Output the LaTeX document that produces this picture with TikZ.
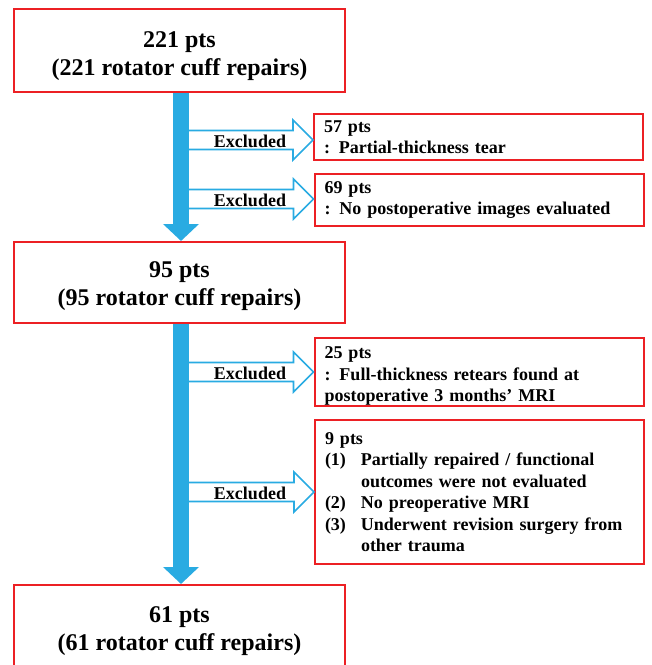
\documentclass[tikz,border=0pt]{standalone}
\usepackage{fontspec}
\setmainfont{Liberation Serif}
\usetikzlibrary{arrows.meta,calc}
\definecolor{boxred}{RGB}{236,32,36}
\definecolor{ablue}{RGB}{41,171,226}
\begin{document}
\begin{tikzpicture}[x=1pt,y=-1pt,
 mainbox/.style={draw=boxred,line width=2pt,fill=white,minimum width=331pt,align=center,font=\bfseries\fontsize{24}{28}\selectfont},
 sidebox/.style={draw=boxred,line width=2pt,fill=white,text width=309pt,inner xsep=10pt,align=left,font=\bfseries\fontsize{18}{21.5}\selectfont},
 mainarrow/.style={draw=ablue,line width=16pt,-{Triangle[width=35pt,length=17pt]}},
 exarrow/.style={draw=ablue,fill=white,line width=1.6pt,line join=miter},
 exlabel/.style={font=\bfseries\fontsize{18}{20}\selectfont,inner sep=0pt}]
\useasboundingbox (0,0) rectangle (652,665);
\coordinate (axis) at (181,0);
% main boxes
\node[mainbox,minimum height=83pt,text height=56pt] (b1) at (179.5,50.5) {221 pts\\(221 rotator cuff repairs)};
\node[mainbox,minimum height=81pt,text height=52pt] (b2) at (179.5,282.5) {95 pts\\(95 rotator cuff repairs)};
\node[mainbox,minimum height=83pt,text height=54pt] (b3) at (179.5,626.5) {61 pts\\(61 rotator cuff repairs)};
% side boxes
\node[sidebox,minimum height=46pt] (xA) at (478.5,137) {57 pts\\: Partial-thickness tear};
\node[sidebox,minimum height=52pt] (xB) at (479,200) {69 pts\\: No postoperative images evaluated};
\node[sidebox,minimum height=68pt,text height=20pt,inner ysep=0pt] (xC) at (479,372) {25 pts\\: Full-thickness retears found at\\postoperative 3 months’ MRI};
\node[sidebox,minimum height=144pt] (xD) at (479.5,492) {9 pts\\
\makebox[36pt][l]{(1)}Partially repaired / functional\\
\hspace*{36pt}outcomes were not evaluated\\
\makebox[36pt][l]{(2)}No preoperative MRI\\
\makebox[36pt][l]{(3)}Underwent revision surgery from\\
\hspace*{36pt}other trauma};
% main arrows
\draw[mainarrow] (b1.south -| axis) -- (b2.north -| axis);
\draw[mainarrow] (b2.south -| axis) -- (b3.north -| axis);
% excluded arrows
\foreach \bx/\dy in {xA/3,xB/-1,xC/0,xD/0}{
  \draw[exarrow] let \p1=(axis), \p2=($(\bx.west)+(0,\dy)$) in
    (\x1+8pt,\y2+9.5pt) -- (\x2-20pt,\y2+9.5pt) -- (\x2-20pt,\y2+20pt) -- (\p2)
    -- (\x2-20pt,\y2-20pt) -- (\x2-20pt,\y2-9.5pt) -- (\x1+8pt,\y2-9.5pt);
  \node[exlabel] (l\bx) at ($(axis |- \bx.west)+(69,\dy+1)$) {Excluded};
}
\end{tikzpicture}
\end{document}
